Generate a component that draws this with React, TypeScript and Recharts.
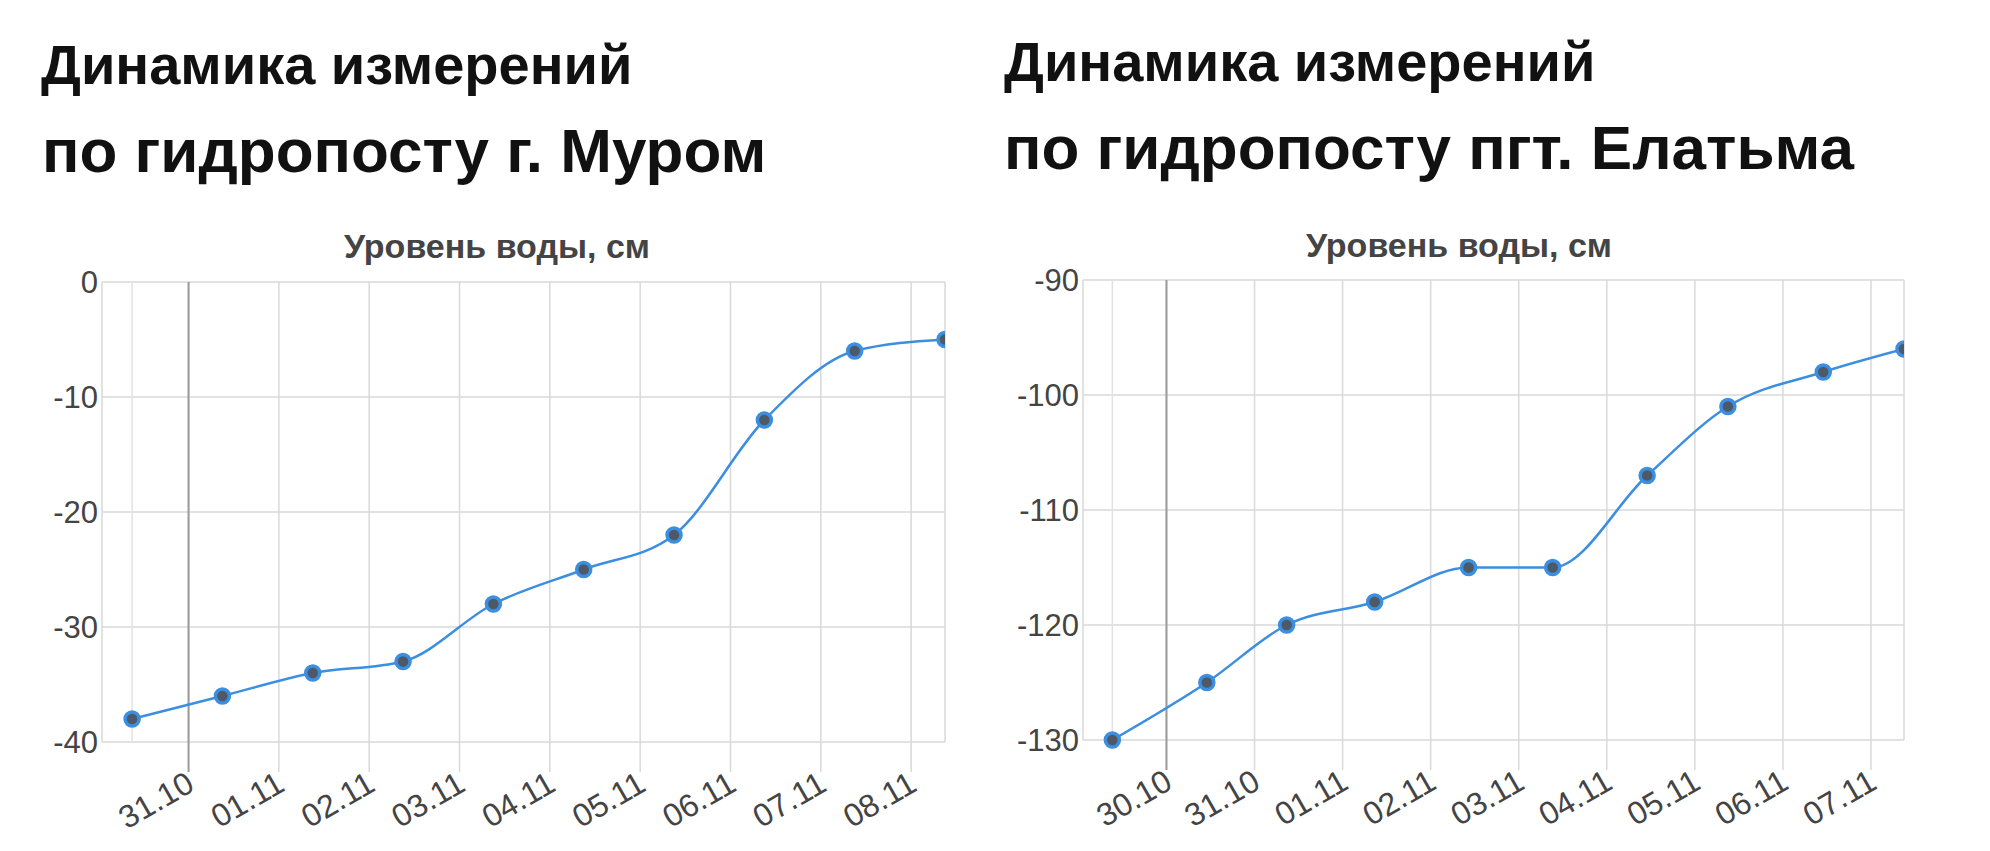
import React from 'react';
import {
  LineChart,
  Line,
  XAxis,
  YAxis,
  CartesianGrid,
  ReferenceLine,
} from 'recharts';

// measurement times (UTC strings) and water level, cm
const muromTimes = [
  '2023-10-30T09:00', '2023-10-31T09:00', '2023-11-01T09:00', '2023-11-02T09:00', '2023-11-03T09:00',
  '2023-11-04T09:00', '2023-11-05T09:00', '2023-11-06T09:00', '2023-11-07T09:00', '2023-11-08T09:00',
];
const muromLevels = [-38, -36, -34, -33, -28, -25, -22, -12, -6, -5];
const muromTickLabels = ['31.10', '01.11', '02.11', '03.11', '04.11', '05.11', '06.11', '07.11', '08.11'];
const muromYTicks = [-40, -30, -20, -10, 0];

const elatmaTimes = [
  '2023-10-29T09:15', '2023-10-30T11:00', '2023-10-31T08:45', '2023-11-01T08:45', '2023-11-02T10:20',
  '2023-11-03T09:15', '2023-11-04T11:00', '2023-11-05T09:00', '2023-11-06T11:00', '2023-11-07T09:00',
];
const elatmaLevels = [-130, -125, -120, -118, -115, -115, -107, -101, -98, -96];
const elatmaTickLabels = ['30.10', '31.10', '01.11', '02.11', '03.11', '04.11', '05.11', '06.11', '07.11'];
const elatmaYTicks = [-130, -120, -110, -100, -90];

const YEAR = 2023;
const DAY = 86400000;
const FONT = '"Liberation Sans", Arial, sans-serif';
const GRID = '#d9d9d9';
const BLUE = '#3b8ee0';

const toDays = (s: string) => Date.parse(s + ':00Z') / DAY;
const labelToDays = (l: string) => {
  const [d, m] = l.split('.').map(Number);
  return Date.UTC(YEAR, m - 1, d) / DAY;
};
const fmtLabel = (v: number) => {
  const dt = new Date(Math.round(v * DAY));
  const dd = String(dt.getUTCDate()).padStart(2, '0');
  const mm = String(dt.getUTCMonth() + 1).padStart(2, '0');
  return `${dd}.${mm}`;
};

const TICK_LEN = 30;
const TICK_GAP = 8;

const DateTick = (props: any) => {
  const { x, y, payload, index } = props;
  return (
    <g>
      <line
        x1={x}
        x2={x}
        y1={y - TICK_GAP - TICK_LEN}
        y2={y - TICK_GAP}
        stroke={index === 0 ? '#9a9a9a' : GRID}
        strokeWidth={index === 0 ? 2 : 1.5}
      />
      <g transform={`translate(${x + 2},${y})`}>
        <text
          textAnchor="end"
          dy="0.35em"
          transform="rotate(-30)"
          fill="#444"
          fontSize={32}
          fontFamily={FONT}
        >
          {fmtLabel(payload.value)}
        </text>
      </g>
    </g>
  );
};

interface GaugeChartProps {
  times: string[];
  levels: number[];
  tickLabels: string[];
  yTicks: number[];
  width: number;
  height: number;
  margin: { top: number; right: number; bottom: number; left: number };
}

const GaugeChart: React.FC<GaugeChartProps> = ({ times, levels, tickLabels, yTicks, width, height, margin }) => {
  const data = times.map((t, i) => ({ t: toDays(t), level: levels[i] }));
  const xTicks = tickLabels.map(labelToDays);
  const first = data[0].t;
  const last = data[data.length - 1].t;

  return (
    <LineChart width={width} height={height} data={data} margin={margin}>
      <CartesianGrid stroke={GRID} strokeWidth={1.5} />
      <XAxis
        dataKey="t"
        type="number"
        domain={[first - 1 / 3, last]}
        ticks={xTicks}
        allowDataOverflow
        axisLine={false}
        tickLine={false}
        tickSize={TICK_LEN}
        tickMargin={TICK_GAP}
        height={60}
        interval={0}
        tick={<DateTick />}
      />
      <YAxis
        type="number"
        domain={[yTicks[0], yTicks[yTicks.length - 1]]}
        ticks={yTicks}
        axisLine={false}
        tickLine={false}
        tickSize={0}
        tickMargin={4}
        width={90}
        interval={0}
        tick={{ fill: '#444', fontSize: 31, fontFamily: FONT }}
      />
      <ReferenceLine x={first} stroke="#e2e2e2" strokeWidth={1.5} />
      <ReferenceLine x={xTicks[0]} stroke="#9a9a9a" strokeWidth={2} />
      <Line
        type="monotone"
        dataKey="level"
        stroke={BLUE}
        strokeWidth={2.5}
        dot={{ r: 7, fill: '#4d5966', stroke: BLUE, strokeWidth: 3.5 }}
        activeDot={false}
        isAnimationActive={false}
      />
    </LineChart>
  );
};

const App: React.FC = () => {
  return (
    <div style={{ position: 'absolute', left: 0, top: 0, width: 1990, height: 851, background: '#fff', overflow: 'hidden' }}>
      <div style={{ position: 'absolute', left: 0, top: 0 }}>
        <GaugeChart
          times={muromTimes}
          levels={muromLevels}
          tickLabels={muromTickLabels}
          yTicks={muromYTicks}
          width={990}
          height={851}
          margin={{ top: 282, right: 45, bottom: 49, left: 12 }}
        />
      </div>
      <div style={{ position: 'absolute', left: 990, top: 0 }}>
        <GaugeChart
          times={elatmaTimes}
          levels={elatmaLevels}
          tickLabels={elatmaTickLabels}
          yTicks={elatmaYTicks}
          width={1000}
          height={851}
          margin={{ top: 280, right: 86, bottom: 51, left: 3 }}
        />
      </div>
      <svg width={1990} height={851} style={{ position: 'absolute', left: 0, top: 0, pointerEvents: 'none' }}>
        <g fontFamily={FONT} fontWeight="bold" fill="#111">
          <text x={41} y={84} fontSize={56}>Динамика измерений</text>
          <text x={42} y={172} fontSize={62}>по гидропосту г. Муром</text>
          <text x={1004} y={81} fontSize={56}>Динамика измерений</text>
          <text x={1004} y={169} fontSize={62}>по гидропосту пгт. Елатьма</text>
        </g>
        <g fontFamily={FONT} fontWeight="bold" fill="#444" fontSize={34} textAnchor="middle">
          <text x={497} y={258}>Уровень воды, см</text>
          <text x={1459} y={257}>Уровень воды, см</text>
        </g>
      </svg>
    </div>
  );
};

export default App;
